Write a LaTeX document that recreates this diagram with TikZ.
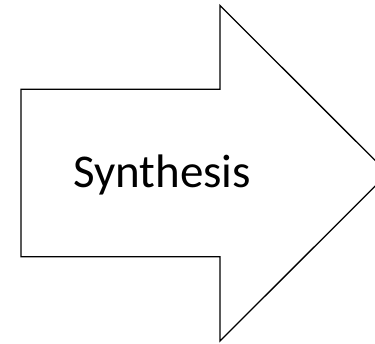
\documentclass[tikz,border=0pt]{standalone}
\usepackage{fontspec}
\setmainfont{Carlito}
\begin{document}
\begin{tikzpicture}[x=1pt,y=-1pt,
  arrowshape/.style={draw=black,line width=1.3pt,line join=miter,fill=white},
  label/.style={inner sep=0pt,anchor=base,font=\fontsize{47}{56}\selectfont}]
\useasboundingbox (0,0) rectangle (375,344);
\clip (0,0) rectangle (375,344);
\fill[white] (0,0) rectangle (375,344);
\draw[arrowshape] (21,89.3) -- (220,89.3) -- (220,5.5) -- (388,173.3)
  -- (220,341) -- (220,256.7) -- (21,256.7) -- cycle;
\node[label] (syn) at (162,187.7) {Synthesis};
\end{tikzpicture}
\end{document}
